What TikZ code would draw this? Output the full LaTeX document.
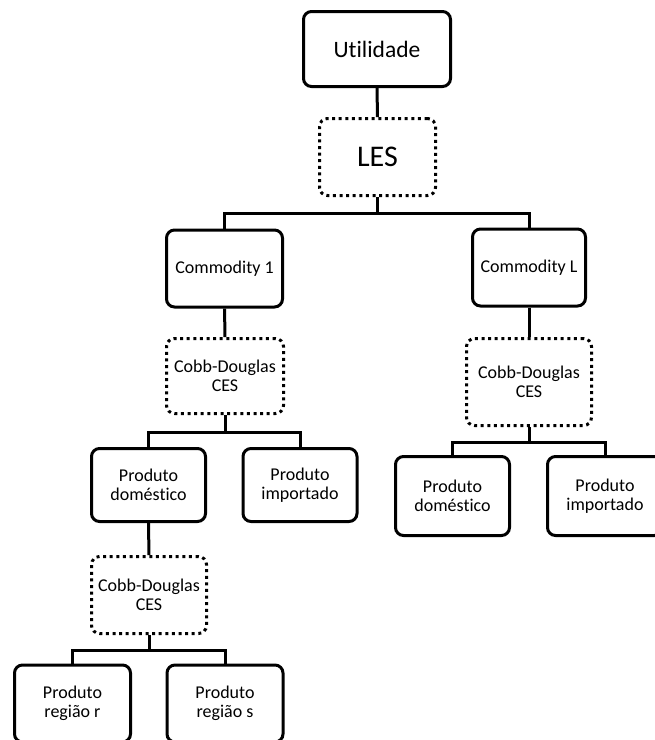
\documentclass[tikz,border=0pt]{standalone}
\usepackage{fontspec}
\setmainfont{Carlito}[Ligatures=NoCommon]
\tikzset{
  box/.style={draw, line width=3pt, rounded corners=8pt, minimum width=116pt,
    minimum height=77pt, align=center, inner sep=2pt,
    font=\fontsize{18}{18.5}\selectfont},
  dotbox/.style={box, dash pattern=on 3pt off 3.6pt},
  link/.style={line width=3pt}
}
\begin{document}
\begin{tikzpicture}[x=1pt,y=-1pt]
\useasboundingbox (0,0) rectangle (655,740);
\clip (0,0) rectangle (655,740);
% top
\node[box, minimum width=147pt, minimum height=75pt, font=\fontsize{23.5}{26}\selectfont] (util) at (377,49) {Utilidade};
\node[dotbox, minimum height=77pt, font=\fontsize{30}{32}\selectfont] (les) at (377.5,157) {LES};
% commodities
\node[box] (com1) at (224.5,268.5) {Commodity 1};
\node[box, minimum width=113pt] (comL) at (529,267.5) {Commodity L};
\node[dotbox, minimum width=117pt, minimum height=75pt] (cd1) at (225,376) {Cobb-Douglas\\CES};
\node[dotbox, minimum width=125pt, minimum height=87pt] (cdL) at (529,382) {Cobb-Douglas\\CES};
% left branch
\node[box, minimum width=114pt, minimum height=73pt] (dom1) at (148.5,485) {Produto\\doméstico};
\node[box, minimum width=114pt, minimum height=73pt] (imp1) at (300,485) {Produto\\importado};
\node[dotbox, minimum width=115pt, minimum height=77pt] (cd3) at (149,595) {Cobb-Douglas\\CES};
\node[box, minimum height=77pt] (regr) at (72.5,703.5) {Produto\\região r};
\node[box, minimum height=77pt] (regs) at (225,703.5) {Produto\\região s};
% right branch
\node[box, minimum width=114pt, minimum height=79pt] (dom2) at (452.5,496) {Produto\\doméstico};
\node[box, minimum width=115pt, minimum height=79pt] (imp2) at (605,496) {Produto\\importado};
% links
\draw[link] (util) -- (les);
\draw[link] (les.south) -- ++(0,16) -| (com1.north);
\draw[link] (les.south) -- ++(0,16) -| (comL.north);
\draw[link] (com1) -- (cd1);
\draw[link] (comL) -- (cdL);
\draw[link] (cd1.south) -- ++(0,17) -| (dom1.north);
\draw[link] (cd1.south) -- ++(0,17) -| (imp1.north);
\draw[link] (cdL.south) -- ++(0,15) -| (dom2.north);
\draw[link] (cdL.south) -- ++(0,15) -| (imp2.north);
\draw[link] (dom1) -- (cd3);
\draw[link] (cd3.south) -- ++(0,15) -| (regr.north);
\draw[link] (cd3.south) -- ++(0,15) -| (regs.north);
\end{tikzpicture}
\end{document}
